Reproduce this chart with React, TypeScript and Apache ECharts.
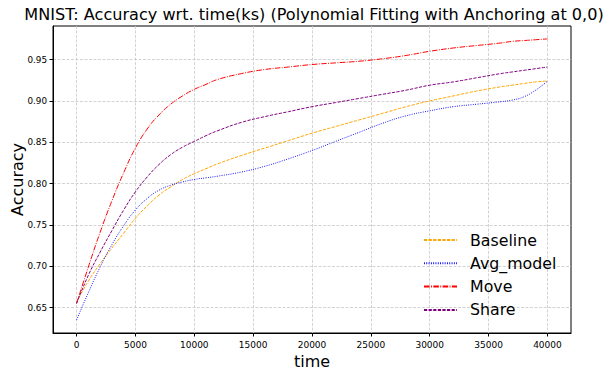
import React, { useEffect, useRef } from "react";
import * as echarts from "echarts";

const times = [0, 1000, 2000, 3000, 4000, 5000, 6000, 7000, 8000, 9000, 10000, 11000, 12000, 14000, 16000, 18000, 20000, 22000, 24000, 26000, 28000, 30000, 32000, 34000, 36000, 37000, 38000, 39000, 40000];
const baseline = [0.657, 0.682, 0.703, 0.722, 0.740, 0.758, 0.773, 0.786, 0.796, 0.805, 0.812, 0.818, 0.824, 0.834, 0.843, 0.852, 0.861, 0.869, 0.877, 0.885, 0.893, 0.900, 0.906, 0.912, 0.917, 0.919, 0.921, 0.923, 0.924];
const avgModel = [0.635, 0.668, 0.699, 0.726, 0.749, 0.768, 0.782, 0.792, 0.798, 0.802, 0.805, 0.807, 0.809, 0.814, 0.821, 0.830, 0.840, 0.851, 0.862, 0.873, 0.882, 0.888, 0.893, 0.896, 0.899, 0.901, 0.905, 0.913, 0.924];
const move = [0.655, 0.699, 0.741, 0.779, 0.813, 0.843, 0.866, 0.883, 0.896, 0.906, 0.914, 0.920, 0.926, 0.933, 0.938, 0.941, 0.944, 0.946, 0.948, 0.951, 0.955, 0.960, 0.964, 0.967, 0.970, 0.972, 0.973, 0.974, 0.975];
const share = [0.655, 0.689, 0.717, 0.743, 0.768, 0.790, 0.808, 0.823, 0.835, 0.844, 0.851, 0.858, 0.864, 0.874, 0.881, 0.887, 0.893, 0.898, 0.903, 0.908, 0.913, 0.919, 0.923, 0.928, 0.933, 0.935, 0.937, 0.939, 0.941];
const xTicks = [0, 5000, 10000, 15000, 20000, 25000, 30000, 35000, 40000];
const yTicks = [0.65, 0.7, 0.75, 0.8, 0.85, 0.9, 0.95];

const FONT = "DejaVu Sans";

export default function App() {
  const ref = useRef<HTMLDivElement>(null);
  useEffect(() => {
    if (!ref.current) return;
    const chart = echarts.init(ref.current, null, { renderer: "svg" });
    const mk = (vals: number[]) => times.map((t, i) => [t, vals[i]]);
    const gridLine = { show: true, lineStyle: { color: "#c8c8c8", type: [3, 1.5], width: 0.8 } };
    const series = [
      { name: "Baseline", data: mk(baseline), color: "#ffa500", type: [3.2, 1.4] },
      { name: "Avg_model", data: mk(avgModel), color: "#0000ff", type: [0.9, 1.4] },
      { name: "Move", data: mk(move), color: "#ff0000", type: [5.6, 1.4, 0.9, 1.4] },
      { name: "Share", data: mk(share), color: "#800080", type: [3.2, 1.4] },
    ].map((s) => ({
      name: s.name,
      type: "line",
      data: s.data,
      smooth: true,
      symbol: "none",
      showSymbol: false,
      color: s.color,
      lineStyle: { color: s.color, width: 1, type: s.type },
    }));
    chart.setOption({
      animation: false,
      textStyle: { fontFamily: FONT },
      title: {
        text: "MNIST: Accuracy wrt. time(ks) (Polynomial Fitting with Anchoring at 0,0)",
        left: 309,
        textAlign: "center",
        top: 1,
        textStyle: { fontFamily: FONT, fontSize: 16.1, fontWeight: "normal", color: "#000" },
      },
      grid: { left: 53, right: 42, top: 26, bottom: 38, show: true, borderColor: "#000", borderWidth: 1, containLabel: false, outerBoundsMode: "none" },
      legend: {
        orient: "vertical",
        left: 423,
        top: 232,
        padding: 0,
        itemWidth: 33,
        itemHeight: 16,
        itemGap: 7.3,
        itemStyle: { opacity: 0, borderWidth: 0 },
        textStyle: { fontFamily: FONT, fontSize: 15.8, color: "#000", lineHeight: 16, padding: [0, 0, 0, 8] },
        data: ["Baseline", "Avg_model", "Move", "Share"],
      },
      xAxis: {
        type: "value",
        min: -2000,
        max: 42000,
        name: "time",
        nameLocation: "middle",
        nameGap: 16,
        nameTextStyle: { fontFamily: FONT, fontSize: 16, color: "#000" },
        axisLine: { show: true, onZero: false, lineStyle: { color: "#000", width: 1 } },
        axisTick: { show: true, inside: false, length: 3.5, lineStyle: { color: "#000" }, customValues: xTicks },
        axisLabel: { customValues: xTicks, fontFamily: FONT, fontSize: 9, color: "#000", margin: 7, formatter: (v: number) => String(v) },
        splitLine: gridLine,
      },
      yAxis: {
        type: "value",
        min: 0.6193,
        max: 0.9906,
        name: "Accuracy",
        nameLocation: "middle",
        nameRotate: 90,
        nameGap: 28,
        nameMoveOverlap: false,
        nameTextStyle: { fontFamily: FONT, fontSize: 16, color: "#000" },
        axisLine: { show: true, onZero: false, lineStyle: { color: "#000", width: 1 } },
        axisTick: { show: true, inside: false, length: 3.5, lineStyle: { color: "#000" }, customValues: yTicks },
        axisLabel: { customValues: yTicks, fontFamily: FONT, fontSize: 8.8, color: "#000", margin: 6, formatter: (v: number) => v.toFixed(2) },
        splitLine: gridLine,
      },
      series,
    });
    return () => chart.dispose();
  }, []);
  return <div ref={ref} style={{ width: 613, height: 371, position: "absolute", left: 0, top: 0 }} />;
}
